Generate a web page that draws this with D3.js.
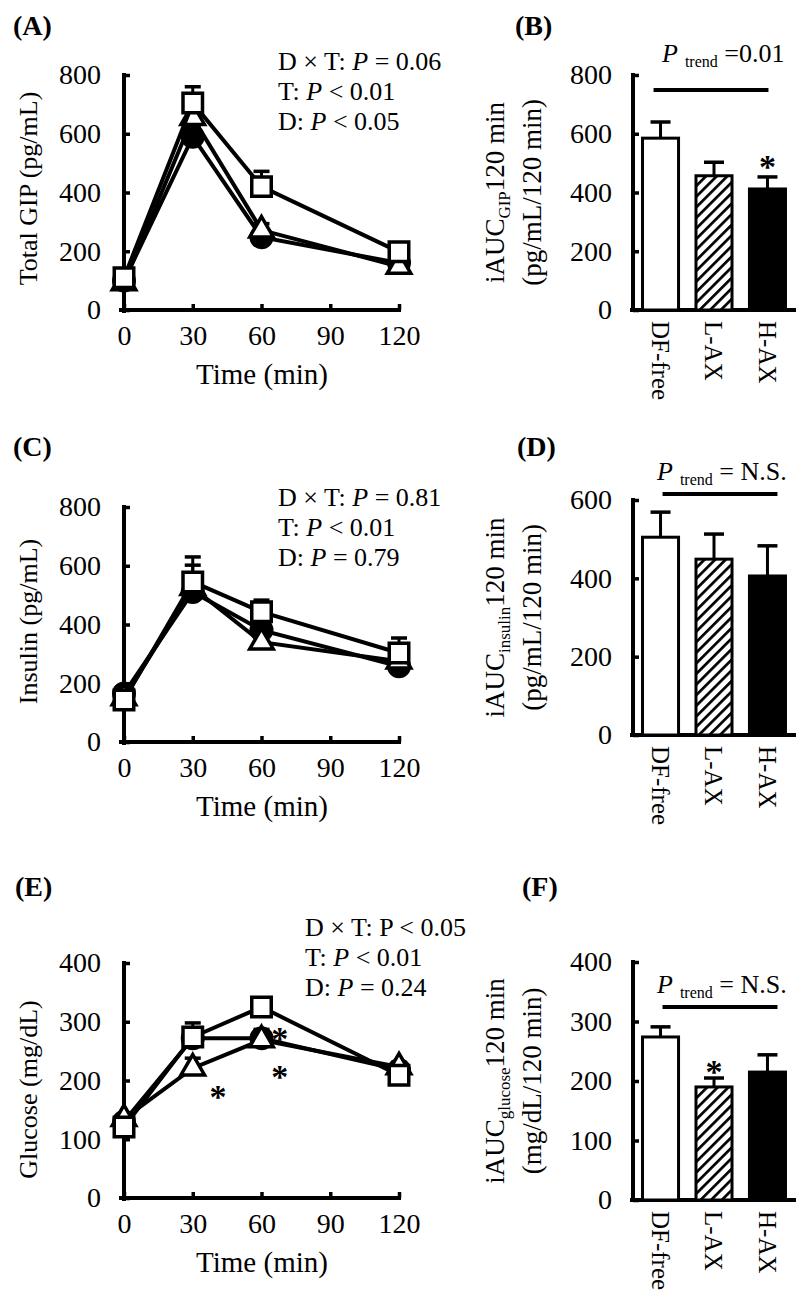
<!DOCTYPE html>
<html>
<head>
<meta charset="utf-8">
<script src="https://cdn.jsdelivr.net/npm/d3@7"></script>
<style>
  body { margin: 0; background: #fff; }
  svg { display: block; }
  text { font-family: "Liberation Serif", "Times New Roman", serif; fill: #000; }
</style>
</head>
<body>
<div id="chart"></div>
<script>
var times = [0, 30, 60, 120];
var groups = ["DF-free", "L-AX", "H-AX"];

// time course means and SE (upper bar only)
var gipDF = [110, 705, 420, 198], gipDFse = [12, 55, 52, 14];
var gipL = [92, 655, 272, 148], gipLse = [10, 40, 22, 10];
var gipH = [100, 590, 248, 160], gipHse = [10, 35, 20, 10];

var insDF = [143, 545, 443, 303], insDFse = [15, 85, 40, 51];
var insL = [150, 525, 340, 275], insLse = [12, 77, 20, 15];
var insH = [165, 511, 381, 258], insHse = [12, 60, 30, 15];

var gluDF = [121, 274, 325, 209], gluDFse = [8, 24, 12, 8];
var gluL = [135, 221, 269, 223], gluLse = [5, 17, 15, 8];
var gluH = [130, 272, 272, 218], gluHse = [5, 15, 15, 8];

// iAUC 0-120 min
var gipAUC = [585, 457, 412], gipAUCse = [55, 46, 41];
var insAUC = [505, 449, 406], insAUCse = [64, 64, 77];
var gluAUC = [274, 190, 215], gluAUCse = [17, 15, 29];

var yTicks800 = [0, 200, 400, 600, 800];
var yTicks600 = [0, 200, 400, 600];
var yTicks400 = [0, 100, 200, 300, 400];
var xTicks = [0, 30, 60, 90, 120];

// significance marks: [time, value] / [group, value]
var gluStars = [[41, 179], [68, 278], [68, 212]];

var svg = d3.select("#chart").append("svg")
  .attr("width", 800)
  .attr("height", 1308);

svg.append("rect").attr("width", 800).attr("height", 1308).attr("fill", "#fff");

var defs = svg.append("defs");
var pat = defs.append("pattern")
  .attr("id", "hatch")
  .attr("patternUnits", "userSpaceOnUse")
  .attr("width", 7.5)
  .attr("height", 7.5)
  .attr("patternTransform", "rotate(45)");
pat.append("rect").attr("width", 7.5).attr("height", 7.5).attr("fill", "#fff");
pat.append("line")
  .attr("x1", 0).attr("y1", 0).attr("x2", 0).attr("y2", 7.5)
  .attr("stroke", "#000").attr("stroke-width", 5.4);

var fills = ["#fff", "url(#hatch)", "#000"];

function panelLabel(txt, x, y) {
  svg.append("text")
    .attr("x", x).attr("y", y)
    .style("font-size", "28px")
    .style("font-weight", "bold")
    .text(txt);
}

function styleAxis(g) {
  g.select(".domain").attr("stroke", "#000").attr("stroke-width", 4);
  g.selectAll(".tick line").attr("stroke", "#000").attr("stroke-width", 3.5);
  g.selectAll(".tick text").style("font-size", "28px").style("font-family", "Liberation Serif, serif");
}

function linePanel(opt) {
  var x = d3.scaleLinear().domain([0, 120]).range([124, 399]);
  var y = d3.scaleLinear().domain([0, opt.ymax]).range([opt.y0, opt.y1]);

  var gx = svg.append("g")
    .attr("transform", "translate(0," + opt.y0 + ")")
    .call(d3.axisBottom(x).tickValues(xTicks).tickSizeInner(-6).tickSizeOuter(0).tickPadding(15));
  styleAxis(gx);
  gx.select(".domain").attr("d", "M119,0H401");

  var gy = svg.append("g")
    .attr("transform", "translate(124,0)")
    .call(d3.axisLeft(y).tickValues(opt.yticks).tickSizeInner(-6).tickSizeOuter(0).tickPadding(23));
  styleAxis(gy);
  gy.select(".domain").attr("d", "M0," + (opt.y0 + 3) + "V" + (opt.y1 - 2));

  svg.append("text")
    .attr("transform", "rotate(-90)")
    .attr("x", -((opt.y0 + opt.y1) / 2 + opt.titleShift))
    .attr("y", 28)
    .attr("dy", "0.35em")
    .attr("text-anchor", "middle")
    .style("font-size", "26px")
    .text(opt.ytitle);

  svg.append("text")
    .attr("x", 262)
    .attr("y", opt.y0 + 74)
    .attr("text-anchor", "middle")
    .style("font-size", "29px")
    .text("Time (min)");

  var line = d3.line()
    .x(function(d) { return x(d.t); })
    .y(function(d) { return y(d.v); });

  var symbols = [
    { shape: d3.symbolSquare, size: 380, fill: "#fff" },
    { shape: d3.symbolTriangle, size: 240, fill: "#fff" },
    { shape: d3.symbolCircle, size: 330, fill: "#000" }
  ];

  // draw H-AX first, DF-free last (on top)
  [2, 1, 0].forEach(function(gi) {
    var pts = times.map(function(t, i) {
      return { t: t, v: opt.series[gi][i], se: opt.ses[gi][i] };
    });
    var g = svg.append("g");

    g.append("path")
      .datum(pts)
      .attr("fill", "none")
      .attr("stroke", "#000")
      .attr("stroke-width", 4)
      .attr("d", line);

    var eb = g.selectAll(".eb").data(pts).enter().append("g");
    eb.append("line")
      .attr("x1", function(d) { return x(d.t); })
      .attr("x2", function(d) { return x(d.t); })
      .attr("y1", function(d) { return y(d.v); })
      .attr("y2", function(d) { return y(d.v + d.se); })
      .attr("stroke", "#000").attr("stroke-width", 3);
    eb.append("line")
      .attr("x1", function(d) { return x(d.t) - 8; })
      .attr("x2", function(d) { return x(d.t) + 8; })
      .attr("y1", function(d) { return y(d.v + d.se); })
      .attr("y2", function(d) { return y(d.v + d.se); })
      .attr("stroke", "#000").attr("stroke-width", 3.5);

    var s = symbols[gi];
    g.selectAll(".pt").data(pts).enter().append("path")
      .attr("transform", function(d) { return "translate(" + x(d.t) + "," + y(d.v) + ")"; })
      .attr("d", d3.symbol().type(s.shape).size(s.size))
      .attr("fill", s.fill)
      .attr("stroke", "#000")
      .attr("stroke-width", 3.5);
  });

  var ann = svg.append("text")
    .attr("x", opt.annX)
    .attr("y", opt.annY)
    .style("font-size", "26px");
  opt.ann.forEach(function(row, i) {
    var t = ann.append("tspan").attr("x", opt.annX).attr("y", opt.annY + i * 30);
    t.append("tspan").text(row[0]);
    t.append("tspan").style("font-style", row[1] ? "italic" : "normal").text("P");
    t.append("tspan").text(row[2]);
  });

  (opt.stars || []).forEach(function(st) {
    svg.append("text")
      .attr("x", x(st[0]))
      .attr("y", y(st[1]) + 15)
      .attr("text-anchor", "middle")
      .style("font-size", "34px")
      .style("font-weight", "bold")
      .text("*");
  });
}

function barPanel(opt) {
  var x = d3.scaleBand().domain(groups).range([633, 795]).paddingInner(0.27).paddingOuter(0.15);
  var y = d3.scaleLinear().domain([0, opt.ymax]).range([opt.y0, opt.y1]);

  var gx = svg.append("g")
    .attr("transform", "translate(0," + opt.y0 + ")")
    .call(d3.axisBottom(x).tickSize(0).tickPadding(0));
  styleAxis(gx);
  gx.select(".domain").attr("d", "M630,0H796");
  gx.selectAll(".tick text")
    .attr("y", 0)
    .attr("x", 11)
    .attr("dy", "0.35em")
    .attr("transform", "rotate(90)")
    .style("font-size", "25px")
    .style("text-anchor", "start");

  var gy = svg.append("g")
    .attr("transform", "translate(633,0)")
    .call(d3.axisLeft(y).tickValues(opt.yticks).tickSizeInner(-6).tickSizeOuter(0).tickPadding(21));
  styleAxis(gy);
  gy.select(".domain").attr("d", "M0," + (opt.y0 + 2) + "V" + (opt.y1 - 2));

  var bars = groups.map(function(gname, i) {
    return { g: gname, v: opt.values[i], se: opt.ses[i], fill: fills[i] };
  });

  var eb = svg.append("g").selectAll("g").data(bars).enter().append("g");
  eb.append("line")
    .attr("x1", function(d) { return x(d.g) + x.bandwidth() / 2; })
    .attr("x2", function(d) { return x(d.g) + x.bandwidth() / 2; })
    .attr("y1", function(d) { return y(d.v); })
    .attr("y2", function(d) { return y(d.v + d.se); })
    .attr("stroke", "#000").attr("stroke-width", 3);
  eb.append("line")
    .attr("x1", function(d) { return x(d.g) + x.bandwidth() / 2 - 10; })
    .attr("x2", function(d) { return x(d.g) + x.bandwidth() / 2 + 10; })
    .attr("y1", function(d) { return y(d.v + d.se); })
    .attr("y2", function(d) { return y(d.v + d.se); })
    .attr("stroke", "#000").attr("stroke-width", 3.5);

  svg.append("g").selectAll("rect").data(bars).enter().append("rect")
    .attr("x", function(d) { return x(d.g) + 1.5; })
    .attr("width", x.bandwidth() - 3)
    .attr("y", function(d) { return y(d.v); })
    .attr("height", function(d) { return opt.y0 - y(d.v); })
    .attr("fill", function(d) { return d.fill; })
    .attr("stroke", "#000")
    .attr("stroke-width", 3);

  // y title, two lines
  var cy = (opt.y0 + opt.y1) / 2;
  var t1 = svg.append("text")
    .attr("transform", "rotate(-90)")
    .attr("x", -cy).attr("y", 495).attr("dy", "0.35em")
    .attr("text-anchor", "middle")
    .style("font-size", "27px");
  t1.append("tspan").text("iAUC");
  t1.append("tspan").attr("dy", 6).style("font-size", "17px").text(opt.sub);
  t1.append("tspan").attr("dy", -6).text("120 min");

  svg.append("text")
    .attr("transform", "rotate(-90)")
    .attr("x", -cy).attr("y", 532).attr("dy", "0.35em")
    .attr("text-anchor", "middle")
    .style("font-size", "27px")
    .text(opt.unit);

  // trend line
  svg.append("line")
    .attr("x1", x(groups[0]) + x.bandwidth() / 2 + opt.trendOff[0])
    .attr("x2", x(groups[2]) + x.bandwidth() / 2 + opt.trendOff[1])
    .attr("y1", opt.trendY).attr("y2", opt.trendY)
    .attr("stroke", "#000").attr("stroke-width", 4);

  var pt = svg.append("text")
    .attr("x", opt.trendTextX)
    .attr("y", opt.trendTextY)
    .style("font-size", "26px");
  pt.append("tspan").style("font-style", "italic").text("P");
  pt.append("tspan").attr("dx", 7).attr("dy", 5).style("font-size", "16px").text("trend");
  pt.append("tspan").attr("dy", -5).text(opt.trendText);

  (opt.stars || []).forEach(function(st) {
    svg.append("text")
      .attr("x", x(groups[st[0]]) + x.bandwidth() / 2)
      .attr("y", y(st[1]) + 15)
      .attr("text-anchor", "middle")
      .style("font-size", "34px")
      .style("font-weight", "bold")
      .text("*");
  });
}

// (A)
panelLabel("(A)", 13, 35);
linePanel({
  ymax: 800, y0: 310, y1: 75, yticks: yTicks800, titleShift: -4,
  ytitle: "Total GIP (pg/mL)",
  series: [gipDF, gipL, gipH], ses: [gipDFse, gipLse, gipHse],
  annX: 278, annY: 70,
  ann: [["D \u00d7 T: ", true, " = 0.06"], ["T: ", true, " < 0.01"], ["D: ", true, " < 0.05"]]
});

// (B)
panelLabel("(B)", 515, 35);
barPanel({
  ymax: 800, y0: 310, y1: 75, yticks: yTicks800,
  values: gipAUC, ses: gipAUCse, sub: "GIP", unit: "(pg/mL/120 min)",
  trendY: 90, trendOff: [-7, 1], trendTextX: 662, trendTextY: 62, trendText: " =0.01",
  stars: [[2, 500]]
});

// (C)
panelLabel("(C)", 13, 456);
linePanel({
  ymax: 800, y0: 742, y1: 507, yticks: yTicks800, titleShift: -3,
  ytitle: "Insulin (pg/mL)",
  series: [insDF, insL, insH], ses: [insDFse, insLse, insHse],
  annX: 278, annY: 506,
  ann: [["D \u00d7 T: ", true, " = 0.81"], ["T: ", true, " < 0.01"], ["D: ", true, " = 0.79"]]
});

// (D)
panelLabel("(D)", 517, 456);
barPanel({
  ymax: 600, y0: 735, y1: 500, yticks: yTicks600,
  values: insAUC, ses: insAUCse, sub: "insulin", unit: "(pg/mL/120 min)",
  trendY: 494, trendOff: [2, 10], trendTextX: 657, trendTextY: 480, trendText: " = N.S."
});

// (E)
panelLabel("(E)", 15, 896);
linePanel({
  ymax: 400, y0: 1198, y1: 963, yticks: yTicks400, titleShift: 9,
  ytitle: "Glucose (mg/dL)",
  series: [gluDF, gluL, gluH], ses: [gluDFse, gluLse, gluHse],
  annX: 305, annY: 936,
  ann: [["D \u00d7 T: ", false, " < 0.05"], ["T: ", true, " < 0.01"], ["D: ", true, " = 0.24"]],
  stars: gluStars
});

// (F)
panelLabel("(F)", 522, 896);
barPanel({
  ymax: 400, y0: 1200, y1: 962, yticks: yTicks400,
  values: gluAUC, ses: gluAUCse, sub: "glucose", unit: "(mg/dL/120 min)",
  trendY: 1007, trendOff: [2, 10], trendTextX: 657, trendTextY: 993, trendText: " = N.S.",
  stars: [[1, 222]]
});
</script>
</body>
</html>
